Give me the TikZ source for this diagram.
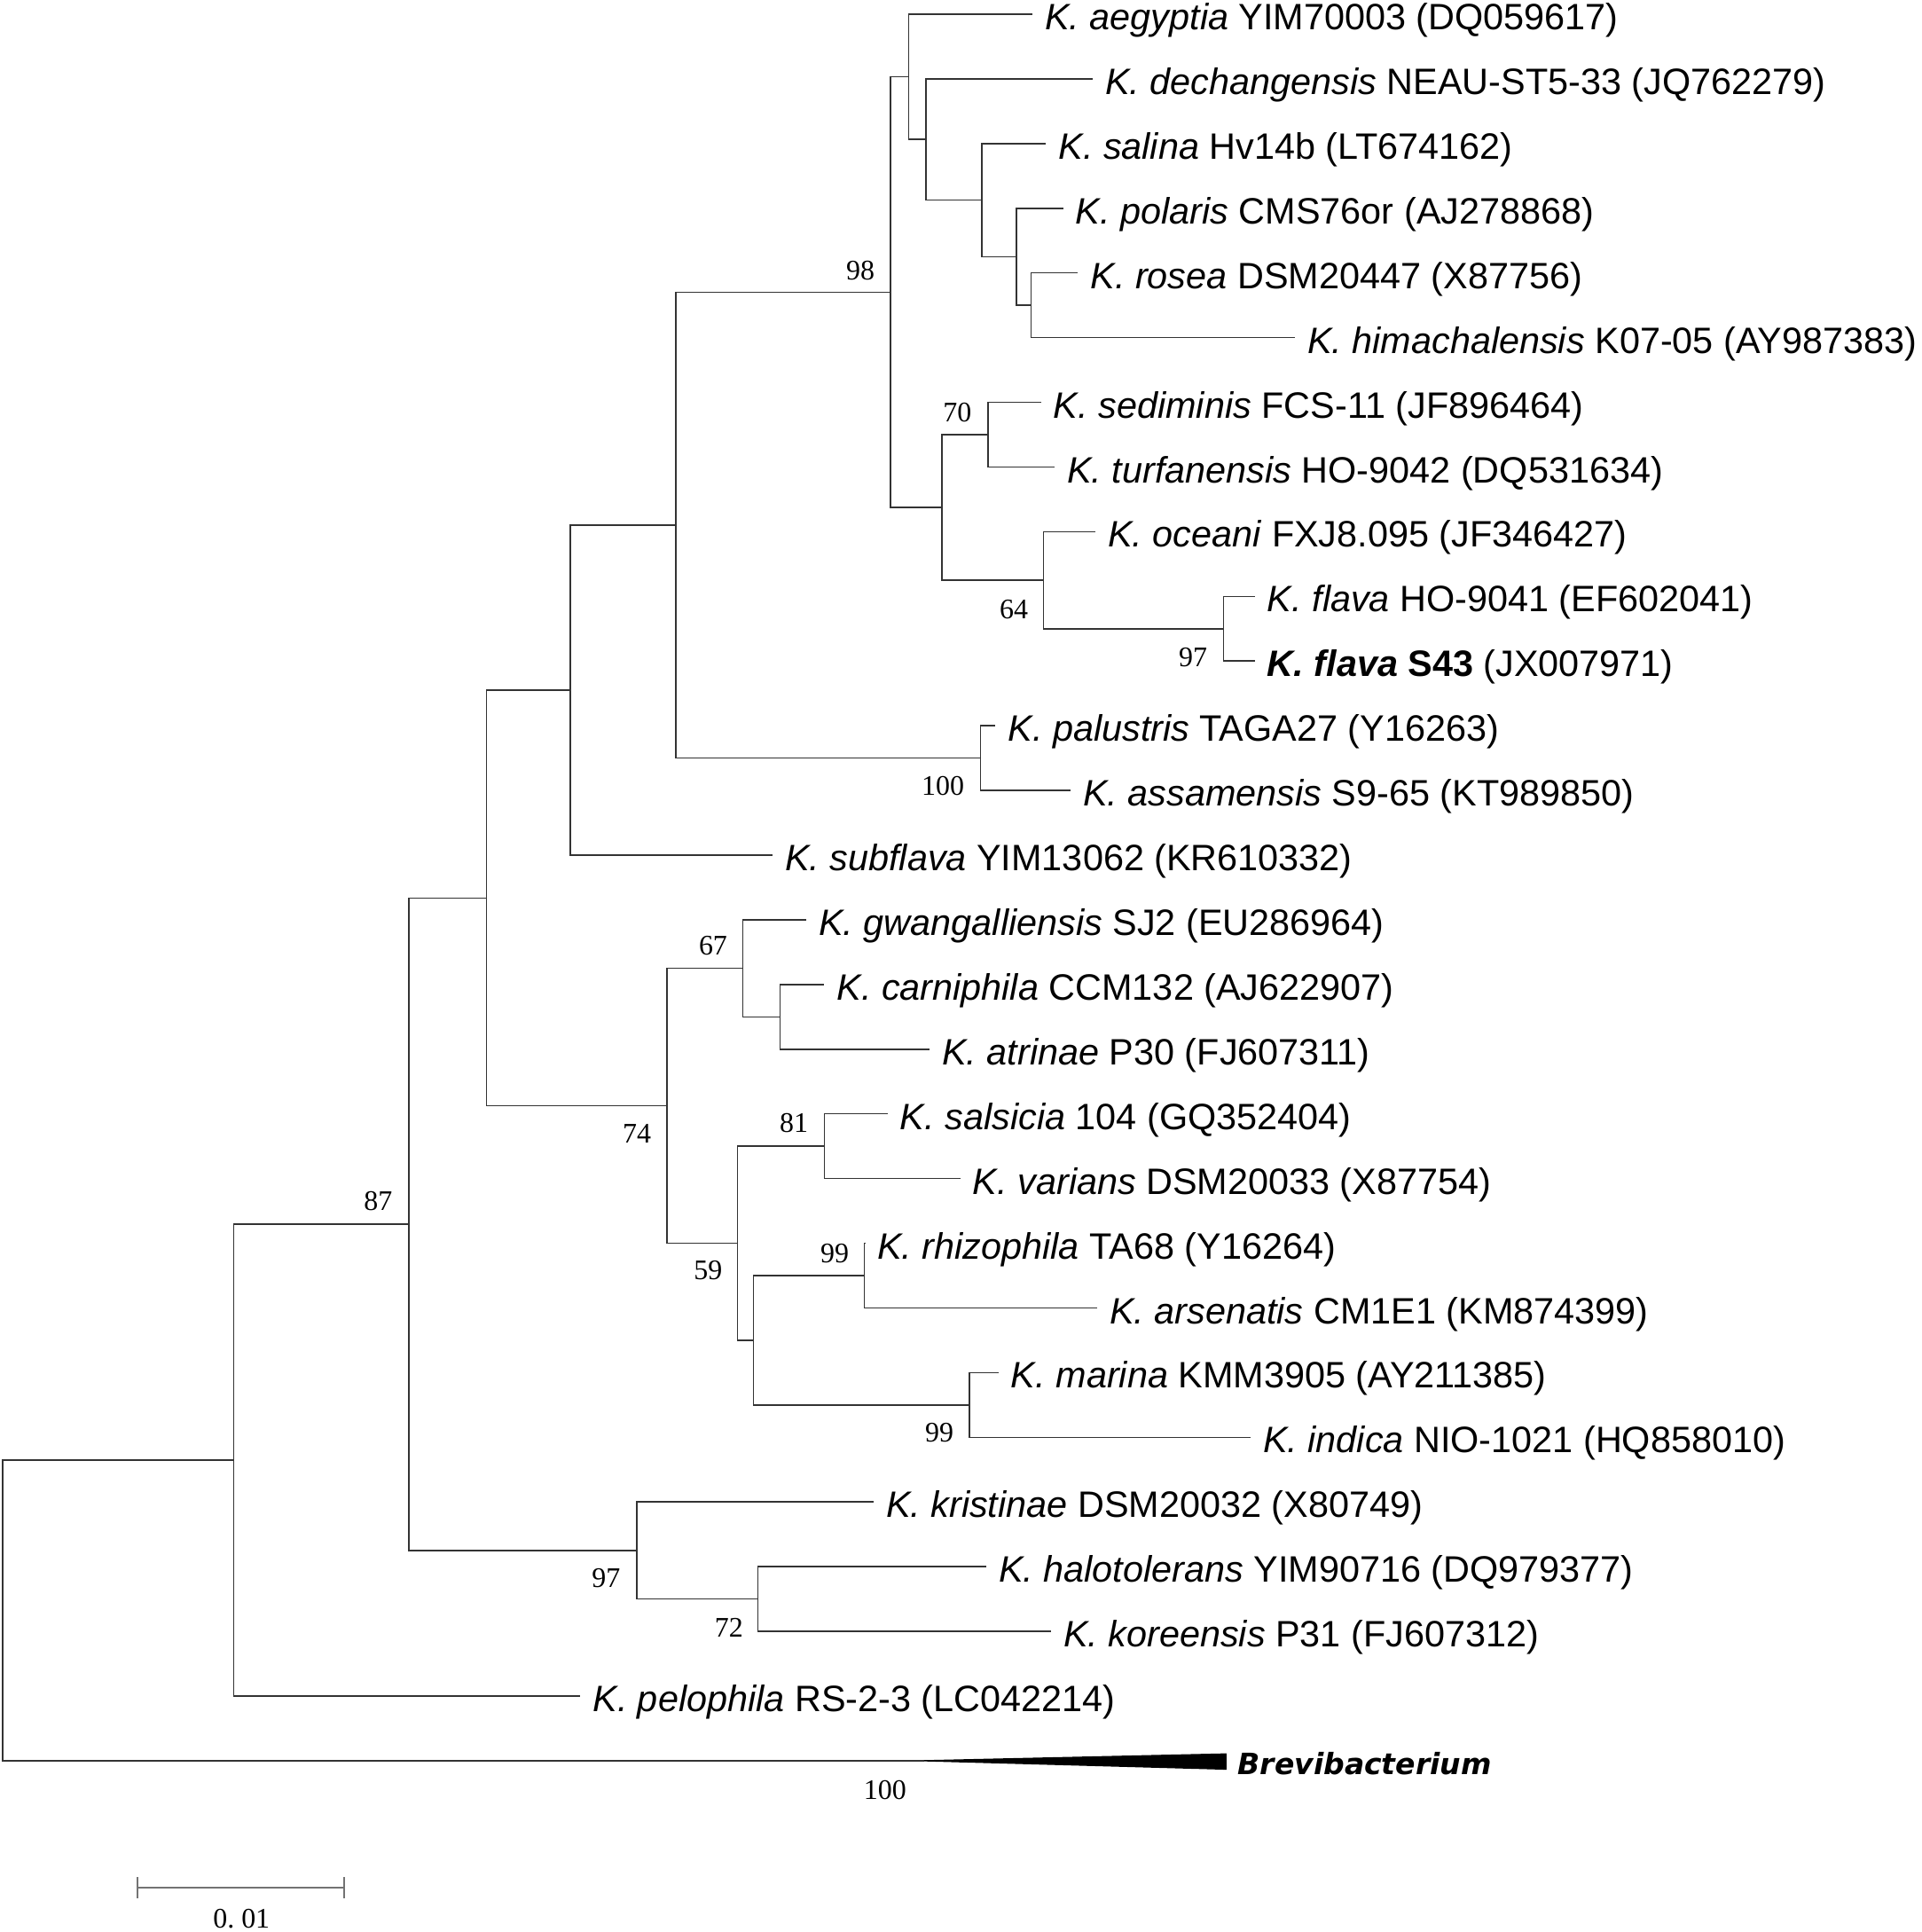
\documentclass[tikz,border=0pt]{standalone}
\usepackage{fontspec}
\setmainfont{Liberation Sans}
\newfontfamily\numfont{Liberation Serif}
\newfontfamily\brfont{DejaVu Sans}
\tikzset{
  br/.style={draw=black!80, line width=1.1pt},
  leaf/.style={anchor=west, inner xsep=10pt, inner ysep=0pt,
    font=\fontsize{29.8}{34}\selectfont, text height=28.9pt, text depth=3.6pt},
  boot/.style={font=\numfont\fontsize{23}{25}\selectfont, inner sep=0pt},
  scalebar/.style={draw=black!55, line width=1.3pt},
  clade/.style={fill=black, draw=black, line width=1pt, line join=miter}
}
\begin{document}
\begin{tikzpicture}[x=1pt,y=-1pt]
\useasboundingbox (0,0) rectangle (1560,1568);
% leaves
\node[leaf] (l0) at (838,11.5) {\textit{K. aegyptia} YIM70003 (DQ059617)};
\node[leaf] (l1) at (887,64) {\textit{K. dechangensis} NEAU-ST5-33 (JQ762279)};
\node[leaf] (l2) at (849,116.5) {\textit{K. salina} Hv14b (LT674162)};
\node[leaf] (l3) at (863,169) {\textit{K. polaris} CMS76or (AJ278868)};
\node[leaf] (l4) at (875,221.5) {\textit{K. rosea} DSM20447 (X87756)};
\node[leaf] (l5) at (1051,274) {\textit{K. himachalensis} K07-05 (AY987383)};
\node[leaf] (l6) at (845,326.5) {\textit{K. sediminis} FCS-11 (JF896464)};
\node[leaf] (l7) at (856,379) {\textit{K. turfanensis} HO-9042 (DQ531634)};
\node[leaf] (l8) at (889,431.5) {\textit{K. oceani} FXJ8.095 (JF346427)};
\node[leaf] (l9) at (1018.5,484) {\textit{K. flava} HO-9041 (EF602041)};
\node[leaf] (l10) at (1018.5,536.5) {\textbf{\textit{K. flava} S43} (JX007971)};
\node[leaf] (l11) at (808,589) {\textit{K. palustris} TAGA27 (Y16263)};
\node[leaf] (l12) at (869,641.5) {\textit{K. assamensis} S9-65 (KT989850)};
\node[leaf] (l13) at (627,694) {\textit{K. subflava} YIM13062 (KR610332)};
\node[leaf] (l14) at (654.5,746.5) {\textit{K. gwangalliensis} SJ2 (EU286964)};
\node[leaf] (l15) at (669,799) {\textit{K. carniphila} CCM132 (AJ622907)};
\node[leaf] (l16) at (754.5,851.5) {\textit{K. atrinae} P30 (FJ607311)};
\node[leaf] (l17) at (720.5,904) {\textit{K. salsicia} 104 (GQ352404)};
\node[leaf] (l18) at (779.5,956.5) {\textit{K. varians} DSM20033 (X87754)};
\node[leaf] (l19) at (702,1009) {\textit{K. rhizophila} TA68 (Y16264)};
\node[leaf] (l20) at (890.5,1061.5) {\textit{K. arsenatis} CM1E1 (KM874399)};
\node[leaf] (l21) at (810.5,1114) {\textit{K. marina} KMM3905 (AY211385)};
\node[leaf] (l22) at (1015,1166.5) {\textit{K. indica} NIO-1021 (HQ858010)};
\node[leaf] (l23) at (709,1219) {\textit{K. kristinae} DSM20032 (X80749)};
\node[leaf] (l24) at (800.5,1271.5) {\textit{K. halotolerans} YIM90716 (DQ979377)};
\node[leaf] (l25) at (853,1324) {\textit{K. koreensis} P31 (FJ607312)};
\node[leaf] (l26) at (471,1376.5) {\textit{K. pelophila} RS-2-3 (LC042214)};
% internal nodes
\coordinate (n836) at (837,247.75);
\coordinate (n824) at (825,208.4);
\coordinate (n797) at (797,162.4);
\coordinate (n751) at (751.5,113.2);
\coordinate (n738) at (737.5,62.4);
\coordinate (n802) at (802,352.75);
\coordinate (n993) at (993,510.25);
\coordinate (n847) at (847,470.9);
\coordinate (n765) at (764.5,411.8);
\coordinate (n722) at (722.8,237.1);
\coordinate (n796) at (796,615.25);
\coordinate (n548) at (548.6,426.2);
\coordinate (n463) at (463,560.1);
\coordinate (n633) at (633,825.25);
\coordinate (n603) at (603,785.9);
\coordinate (n667) at (669,930.25);
\coordinate (n702) at (701.6,1035.25);
\coordinate (n787) at (786.7,1140.25);
\coordinate (n610) at (611.5,1087.75);
\coordinate (n597) at (598.5,1009);
\coordinate (n541) at (541.2,897.4);
\coordinate (n395) at (395,728.8);
\coordinate (n614) at (615,1297.75);
\coordinate (n516) at (517,1258.4);
\coordinate (n332) at (332,993.6);
\coordinate (n190) at (189.6,1185);
\coordinate (root) at (2.2,1307);
\coordinate (brtip) at (750,1429);
% branches
\draw[br] (n836) |- (l4.west) (n836) |- (l5.west);
\draw[br] (n824) |- (l3.west) (n824) |- (n836);
\draw[br] (n797) |- (l2.west) (n797) |- (n824);
\draw[br] (n751) |- (l1.west) (n751) |- (n797);
\draw[br] (n738) |- (l0.west) (n738) |- (n751);
\draw[br] (n802) |- (l6.west) (n802) |- (l7.west);
\draw[br] (n993) |- (l9.west) (n993) |- (l10.west);
\draw[br] (n847) |- (l8.west) (n847) |- (n993);
\draw[br] (n765) |- (n802) (n765) |- (n847);
\draw[br] (n722) |- (n738) (n722) |- (n765);
\draw[br] (n796) |- (l11.west) (n796) |- (l12.west);
\draw[br] (n548) |- (n722) (n548) |- (n796);
\draw[br] (n463) |- (n548) (n463) |- (l13.west);
\draw[br] (n633) |- (l15.west) (n633) |- (l16.west);
\draw[br] (n603) |- (l14.west) (n603) |- (n633);
\draw[br] (n667) |- (l17.west) (n667) |- (l18.west);
\draw[br] (n702) |- (l19.west) (n702) |- (l20.west);
\draw[br] (n787) |- (l21.west) (n787) |- (l22.west);
\draw[br] (n610) |- (n702) (n610) |- (n787);
\draw[br] (n597) |- (n667) (n597) |- (n610);
\draw[br] (n541) |- (n603) (n541) |- (n597);
\draw[br] (n395) |- (n463) (n395) |- (n541);
\draw[br] (n614) |- (l24.west) (n614) |- (l25.west);
\draw[br] (n516) |- (l23.west) (n516) |- (n614);
\draw[br] (n332) |- (n395) (n332) |- (n516);
\draw[br] (n190) |- (n332) (n190) |- (l26.west);
\draw[br] (root) |- (n190) (root) |- (brtip);
% collapsed clade
\path[clade] (brtip) -- (995,1423.5) -- (995,1435.8) -- cycle;
\node[anchor=west, inner xsep=9pt, inner ysep=0pt,
  font=\brfont\fontsize{23.8}{26}\selectfont\bfseries\itshape] (brevi) at (995.5,1431) {Brevibacterium};
% bootstrap values
\node[boot] (b98) at (698.4,219.4) {98};
\node[boot] (b70) at (777,334.8) {70};
\node[boot] (b64) at (823,494.4) {64};
\node[boot] (b97a) at (968.3,533.3) {97};
\node[boot] (b100a) at (765.4,638) {100};
\node[boot] (b67) at (578.8,767.5) {67};
\node[boot] (b74) at (517,920) {74};
\node[boot] (b81) at (644.4,911.5) {81};
\node[boot] (b59) at (574.7,1031) {59};
\node[boot] (b99a) at (677.5,1017) {99};
\node[boot] (b99b) at (762.4,1162.7) {99};
\node[boot] (b87) at (307,975) {87};
\node[boot] (b97b) at (492,1281) {97};
\node[boot] (b72) at (591.6,1321) {72};
\node[boot] (b100b) at (718.4,1453) {100};
% scale bar
\coordinate (sb1) at (111.6,1531.8);
\coordinate (sb2) at (279.6,1531.8);
\draw[scalebar] (sb1) -- (sb2);
\draw[scalebar] ([yshift=-9pt]sb1) -- ([yshift=8.5pt]sb1);
\draw[scalebar] ([yshift=-9pt]sb2) -- ([yshift=8.5pt]sb2);
\node[boot] (sblabel) at (196,1557) {0.\ 01};
\end{tikzpicture}
\end{document}
